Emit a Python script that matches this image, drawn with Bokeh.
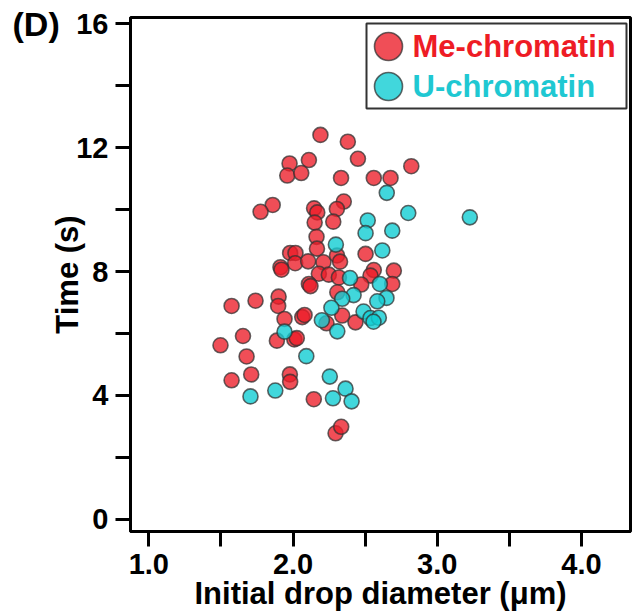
from bokeh.plotting import figure
from bokeh.models import Range1d, FixedTicker, Legend, LegendItem, Label, BoxAnnotation
from bokeh.embed import file_html
from bokeh.resources import INLINE

# ---- data ----
me_x = [2.19, 2.38, 2.45, 2.11, 1.976, 1.96, 2.057, 2.333, 2.56, 2.676, 2.82, 1.859, 1.775,
        2.146, 2.168, 2.352, 2.304, 2.15, 2.279, 2.163, 2.166, 1.98, 2.017, 2.015, 2.105,
        2.211, 2.305, 2.326, 1.913, 1.92, 2.179, 2.248, 2.318, 2.11, 2.121, 2.307, 2.503,
        2.56, 2.537, 2.699, 2.473, 2.688, 2.341, 2.433, 1.74, 1.574, 1.90, 1.897, 1.941,
        2.064, 2.08, 2.232, 1.653, 1.497, 1.888, 2.009, 2.026, 1.678, 1.71, 1.574, 1.978,
        1.98, 2.144, 2.295, 2.334]
me_y = [12.41, 12.19, 11.64, 11.60, 11.49, 11.10, 11.18, 11.02, 11.02, 11.02, 11.40, 10.15, 9.93,
        10.04, 9.91, 10.26, 10.02, 9.58, 9.61, 9.12, 8.74, 8.60, 8.60, 8.27, 8.33,
        8.30, 8.52, 8.32, 8.14, 8.06, 7.93, 7.90, 7.81, 7.60, 7.53, 7.33, 8.57,
        8.05, 7.87, 8.03, 7.58, 7.60, 6.58, 6.36, 7.06, 6.89, 7.19, 6.89, 6.47,
        6.53, 6.60, 6.33, 5.92, 5.62, 5.77, 5.81, 5.85, 5.26, 4.68, 4.49, 4.68,
        4.44, 3.88, 2.78, 2.99]
u_x = [2.65, 2.799, 3.226, 2.518, 2.503, 2.688, 2.297, 2.619, 2.395, 2.602, 2.42, 2.341, 2.648,
       2.584, 2.266, 2.489, 2.537, 2.595, 2.558, 2.20, 2.307, 1.941, 2.092, 1.705, 1.877,
       2.255, 2.277, 2.364, 2.406]
u_y = [10.54, 9.89, 9.75, 9.65, 9.24, 9.32, 8.87, 8.68, 7.79, 7.60, 7.24, 7.12, 7.15,
       7.04, 6.83, 6.71, 6.50, 6.51, 6.38, 6.43, 6.07, 6.06, 5.27, 3.97, 4.16,
       4.61, 3.91, 4.22, 3.81]

series_names = ["Me-chromatin", "U-chromatin"]
x_ticks = [1, 2, 3, 4]
x_minor = [1.5, 2.5, 3.5]
x_tick_labels = ["1.0", "2.0", "3.0", "4.0"]
y_ticks = [0, 4, 8, 12, 16]
y_minor = [2, 6, 10, 14]
y_tick_labels = ["0", "4", "8", "12", "16"]
x_title = "Initial drop diameter (\u03bcm)"
y_title = "Time (s)"
panel_tag = "(D)"

FONT = "Liberation Sans"
RED = "#EC1C28"
CYAN = "#12CDD3"
RED_TXT = "#EE1C25"
CYAN_TXT = "#1FC8D2"

p = figure(width=636, height=613,
           x_range=Range1d(0.873, 4.340), y_range=Range1d(-0.39, 16.2),
           output_backend="svg", toolbar_location=None,
           min_border_left=130, min_border_right=6, min_border_top=17, min_border_bottom=82)
p.background_fill_color = "white"
p.border_fill_color = "white"
p.outline_line_color = "black"
p.outline_line_width = 3
p.xgrid.visible = False
p.ygrid.visible = False

r_me = p.scatter(me_x, me_y, size=15, fill_color=RED, fill_alpha=0.78,
                 line_color="#333333", line_alpha=0.75, line_width=1.6)
r_u = p.scatter(u_x, u_y, size=15, fill_color=CYAN, fill_alpha=0.8,
                line_color="#333333", line_alpha=0.75, line_width=1.6)

xa = p.xaxis[0]
ya = p.yaxis[0]
xa.ticker = FixedTicker(ticks=x_ticks, minor_ticks=x_minor)
xa.major_label_overrides = {t: l for t, l in zip(x_ticks, x_tick_labels)}
ya.ticker = FixedTicker(ticks=y_ticks, minor_ticks=y_minor)
ya.major_label_overrides = {t: l for t, l in zip(y_ticks, y_tick_labels)}
xa.axis_label = x_title
ya.axis_label = y_title
for ax in (xa, ya):
    ax.axis_line_width = 3
    ax.axis_line_color = "black"
    ax.major_tick_in = 0
    ax.major_tick_out = 15
    ax.minor_tick_in = 0
    ax.minor_tick_out = 15
    ax.major_tick_line_width = 3
    ax.minor_tick_line_width = 3
    ax.major_tick_line_color = "black"
    ax.minor_tick_line_color = "black"
    ax.major_label_text_font = FONT
    ax.major_label_text_font_style = "bold"
    ax.major_label_text_font_size = "29px"
    ax.major_label_text_color = "black"
    ax.axis_label_text_font = FONT
    ax.axis_label_text_font_style = "bold"
    ax.axis_label_text_font_size = "31px"
    ax.axis_label_text_color = "black"
ya.major_label_standoff = 7
xa.major_label_standoff = 7
ya.axis_label_standoff = -12
xa.axis_label_standoff = -1

# legend frame
p.add_layout(BoxAnnotation(left=236, right=496, bottom=423, top=508,
                           left_units="screen", right_units="screen",
                           bottom_units="screen", top_units="screen",
                           fill_color="white", fill_alpha=1,
                           line_color="#333333", line_width=2, line_alpha=1))

# legend glyphs (one legend per entry so each row can sit at its own place)
for name, rend, loc in ((series_names[0], r_me, (223, 450)), (series_names[1], r_u, (223, 410))):
    p.add_layout(Legend(items=[LegendItem(label=name, renderers=[rend])],
                        location=loc, margin=0, padding=0, spacing=0,
                        glyph_width=70, glyph_height=70, label_standoff=0, label_width=0,
                        label_height=0, label_text_font_size="1px", label_text_alpha=0,
                        border_line_color=None, background_fill_alpha=0))

for txt, col, yy in ((series_names[0], RED_TXT, 485), (series_names[1], CYAN_TXT, 445)):
    p.add_layout(Label(x=282, y=yy, x_units="screen", y_units="screen", text=txt,
                       text_font=FONT, text_font_style="bold", text_font_size="31px",
                       text_color=col, text_baseline="middle", text_align="left"))

# panel tag, placed in the left side panel so that it is not clipped to the frame
p.add_layout(Label(x=12, y=527, x_units="screen", y_units="screen", text=panel_tag,
                   text_font=FONT, text_font_style="bold", text_font_size="34px",
                   text_color="black", text_baseline="top", text_align="left"), "left")

open("out.html", "w").write(file_html(p, INLINE))
